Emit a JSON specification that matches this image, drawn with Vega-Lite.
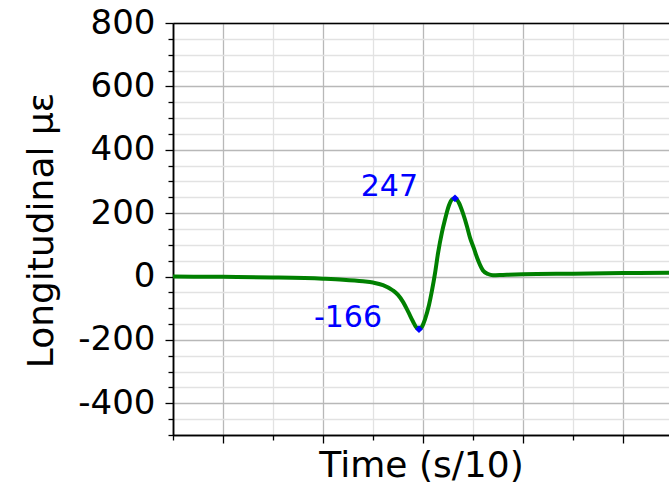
{
  "$schema": "https://vega.github.io/schema/vega-lite/v6.json",
  "width": 496,
  "height": 412,
  "autosize": {"type": "none"},
  "padding": {"left": 173, "top": 23, "right": 0, "bottom": 55},
  "background": "white",
  "view": {"stroke": null},
  "config": {
    "font": "DejaVu Sans",
    "axis": {
      "domainColor": "black",
      "domainWidth": 1.5,
      "tickColor": "black",
      "tickWidth": 1.3,
      "labelFont": "DejaVu Sans",
      "titleFont": "DejaVu Sans",
      "labelColor": "black",
      "titleColor": "black",
      "titleFontWeight": "normal",
      "gridWidth": 1.3
    }
  },
  "datasets": {
    "curve": [
      {"t": 0.5, "v": 0}, {"t": 1.0, "v": -1}, {"t": 1.5, "v": -3}, {"t": 2.0, "v": -7},
      {"t": 2.2, "v": -10}, {"t": 2.4, "v": -15}, {"t": 2.5, "v": -19}, {"t": 2.6, "v": -27},
      {"t": 2.7, "v": -44}, {"t": 2.75, "v": -58}, {"t": 2.8, "v": -80}, {"t": 2.85, "v": -110},
      {"t": 2.9, "v": -142}, {"t": 2.93, "v": -159}, {"t": 2.96, "v": -166}, {"t": 2.99, "v": -158},
      {"t": 3.02, "v": -135}, {"t": 3.06, "v": -90}, {"t": 3.09, "v": -44}, {"t": 3.12, "v": 10},
      {"t": 3.15, "v": 73}, {"t": 3.19, "v": 140}, {"t": 3.22, "v": 180}, {"t": 3.26, "v": 225},
      {"t": 3.29, "v": 243}, {"t": 3.32, "v": 247}, {"t": 3.36, "v": 232}, {"t": 3.4, "v": 199},
      {"t": 3.44, "v": 158}, {"t": 3.47, "v": 123}, {"t": 3.51, "v": 88}, {"t": 3.54, "v": 60},
      {"t": 3.57, "v": 37}, {"t": 3.6, "v": 19}, {"t": 3.65, "v": 8}, {"t": 3.7, "v": 4},
      {"t": 3.8, "v": 5}, {"t": 4.0, "v": 7}, {"t": 4.5, "v": 9}, {"t": 5.0, "v": 11}, {"t": 5.46, "v": 12}
    ],
    "peaks": [
      {"t": 2.96, "v": -166, "label": "-166"},
      {"t": 3.32, "v": 247, "label": "247"}
    ]
  },
  "layer": [
    {
      "data": {"name": "curve"},
      "mark": {"type": "line", "color": "#008000", "strokeWidth": 4, "interpolate": "monotone"},
      "encoding": {
        "x": {
          "field": "t", "type": "quantitative",
          "scale": {"domain": [0.5, 5.46], "nice": false, "zero": false},
          "axis": {
            "orient": "bottom",
            "values": [0.5, 1.5, 2.5, 3.5, 4.5],
            "labels": false,
            "grid": true,
            "gridColor": "#e2e2e2",
            "tickSize": 5,
            "title": null
          }
        },
        "y": {
          "field": "v", "type": "quantitative",
          "scale": {"domain": [-500, 800], "nice": false, "zero": false},
          "axis": {
            "orient": "left",
            "values": [-500, -450, -350, -300, -250, -150, -100, -50, 50, 100, 150, 250, 300, 350, 450, 500, 550, 650, 700, 750],
            "labels": false,
            "grid": true,
            "gridColor": "#e2e2e2",
            "tickSize": 5,
            "title": null
          }
        }
      }
    },
    {
      "data": {"name": "peaks"},
      "mark": {"type": "point", "shape": "diamond", "filled": true, "color": "#0000ff", "size": 60, "opacity": 1},
      "encoding": {
        "x": {
          "field": "t", "type": "quantitative",
          "axis": {
            "orient": "bottom",
            "values": [1, 2, 3, 4, 5],
            "labels": false,
            "grid": true,
            "gridColor": "#b8b8b8",
            "tickSize": 8,
            "title": "Time (s/10)",
            "titleFontSize": 36,
            "titleX": 248,
            "titleY": 41,
            "titleAlign": "center",
            "titleBaseline": "alphabetic"
          }
        },
        "y": {
          "field": "v", "type": "quantitative",
          "axis": {
            "orient": "left",
            "values": [-400, -200, 0, 200, 400, 600, 800],
            "labelExpr": "'' + datum.value",
            "labelFontSize": 34,
            "labelPadding": 10,
            "labelBaseline": "middle",
            "grid": true,
            "gridColor": "#b8b8b8",
            "tickSize": 8,
            "title": "Longitudinal με",
            "titleFontSize": 36,
            "titleAngle": 270,
            "titleX": -121,
            "titleY": 207,
            "titleAlign": "center",
            "titleBaseline": "alphabetic"
          }
        }
      }
    },
    {
      "data": {"name": "peaks"},
      "mark": {"type": "text", "color": "#0000ff", "fontSize": 30, "font": "DejaVu Sans", "align": "right", "baseline": "middle", "dx": -37, "dy": -11},
      "encoding": {
        "x": {"field": "t", "type": "quantitative",
          "axis": {"orient": "top", "labels": false, "ticks": false, "grid": false, "title": null, "domain": true}},
        "y": {"field": "v", "type": "quantitative", "axis": null},
        "text": {"field": "label"}
      }
    }
  ],
  "resolve": {"axis": {"x": "independent", "y": "independent"}}
}
